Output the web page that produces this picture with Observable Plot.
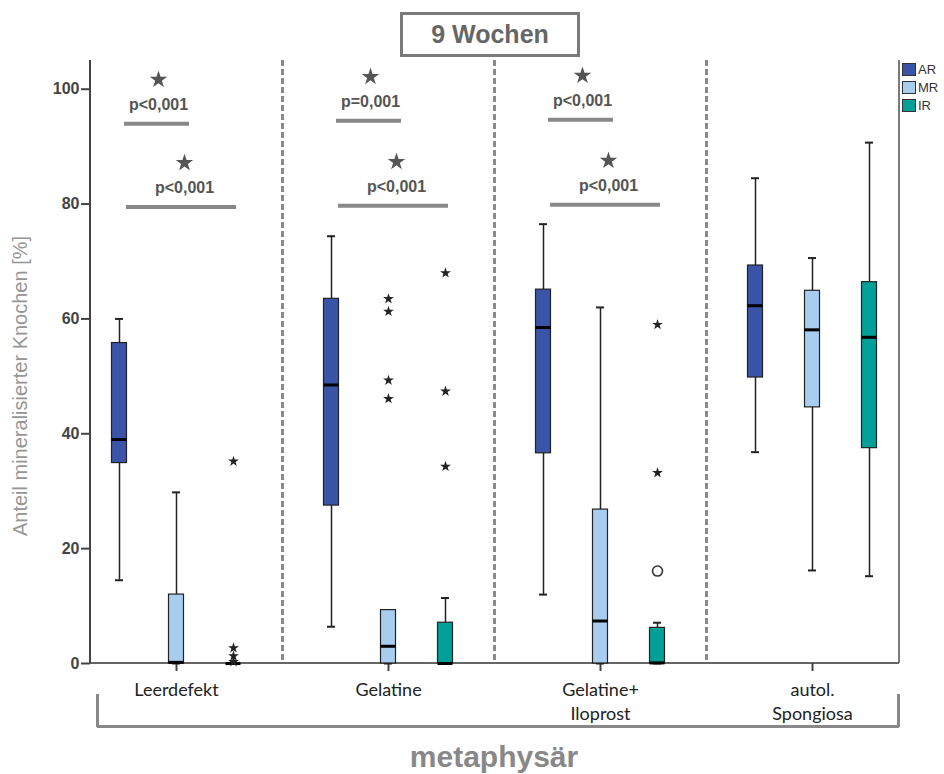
<!DOCTYPE html>
<html>
<head>
<meta charset="utf-8">
<script src="https://cdn.jsdelivr.net/npm/d3@7"></script>
<script src="https://cdn.jsdelivr.net/npm/@observablehq/plot@0.6"></script>
<style>
  body { margin: 0; background: #fff; }
  #wrap { position: relative; width: 944px; height: 774px; font-family: "Liberation Sans", Arial, sans-serif; overflow: hidden; }
  #chart { position: absolute; left: 0; top: 0; }
  #title { position: absolute; left: 400px; top: 12px; width: 180px; height: 45px; box-sizing: border-box;
           border: 3px solid #7a7a7a; display: flex; align-items: center; justify-content: center;
           font-weight: bold; font-size: 25px; color: #666; }
  #legend { position: absolute; left: 902px; top: 60px; }
  .sw { display: flex; align-items: center; height: 18px; font-size: 13px; color: #333; }
  .sw .box { width: 14px; height: 13px; border: 1px solid #333; box-sizing: border-box; margin-right: 2px; }
  #bracket { position: absolute; left: 96px; top: 694px; width: 804px; height: 34px; box-sizing: border-box;
             border: 3px solid #888; border-top: none; border-radius: 0 0 3px 3px; }
  #caption { position: absolute; left: 344px; width: 300px; top: 742px; text-align: center; line-height: 30px;
             font-size: 30px; font-weight: bold; color: #888; }
  #ylabel { position: absolute; left: -180px; top: 374px; width: 400px; text-align: center; line-height: 24px;
            font-size: 20px; color: #959595; transform: rotate(-90deg); transform-origin: 50% 50%; }
</style>
</head>
<body>
<div id="wrap">
  <div id="chart"></div>
  <div id="title"></div>
  <div id="legend"></div>
  <div id="bracket"></div>
  <div id="caption"></div>
  <div id="ylabel"></div>
</div>
<script>
// ---------- data ----------
const titleText = "9 Wochen";
const captionText = "metaphysär";
const yLabel = "Anteil mineralisierter Knochen [%]";
const groups = ["Leerdefekt", "Gelatine", "Gelatine+\nIloprost", "autol.\nSpongiosa"];
const series = ["AR", "MR", "IR"];
const seriesColors = ["#3a55a8", "#a9cdef", "#00a098"];
const yTicks = [0, 20, 40, 60, 80, 100];

// [lower whisker, Q1, median, Q3, upper whisker] per group
const statsAR = [
  [14.5, 34.9, 39.0, 55.8, 60.0],
  [6.4, 27.5, 48.5, 63.5, 74.4],
  [12.0, 36.6, 58.5, 65.1, 76.5],
  [36.8, 49.8, 62.3, 69.3, 84.5]
];
const statsMR = [
  [0, 0, 0.2, 12.0, 29.8],
  [0, 0, 3.0, 9.3, 9.3],
  [0, 0, 7.4, 26.8, 62.0],
  [16.2, 44.6, 58.1, 64.9, 70.6]
];
const statsIR = [
  [0, 0, 0, 0, 0],
  [0, 0, 0, 7.1, 11.4],
  [0, 0, 0.1, 6.2, 7.1],
  [15.2, 37.5, 56.8, 66.4, 90.7]
];

// outliers: [group index, series, value, kind]
const outliers = [
  [0, "IR", 35.2, "star"], [0, "IR", 2.7, "star"], [0, "IR", 1.3, "star"], [0, "IR", 0.3, "star"],
  [1, "MR", 63.5, "star"], [1, "MR", 61.3, "star"], [1, "MR", 49.3, "star"], [1, "MR", 46.1, "star"],
  [1, "IR", 68.0, "star"], [1, "IR", 47.4, "star"], [1, "IR", 34.3, "star"],
  [2, "IR", 59.0, "star"], [2, "IR", 33.2, "star"], [2, "IR", 16.1, "circle"]
];

// significance bars: [group index, pair, level, label]
const sigBars = [
  [0, "AR-MR", 94.0, "p<0,001"], [0, "AR-IR", 79.5, "p<0,001"],
  [1, "AR-MR", 94.5, "p=0,001"], [1, "AR-IR", 79.7, "p<0,001"],
  [2, "AR-MR", 94.7, "p<0,001"], [2, "AR-IR", 79.9, "p<0,001"]
];

// ---------- layout / style ----------
const W = 944, H = 774;
const X_RANGE = [70, 918];
const STEP = (X_RANGE[1] - X_RANGE[0]) / groups.length;
const SERIES_DX = {AR: -57, MR: 0, IR: 57};
const BOX_W = 15, CAP_W = 8;
const boxInset = (STEP - BOX_W) / 2;
const capInset = (STEP - CAP_W) / 2;
const PAIR_STYLE = {
  "AR-MR": {insetLeft: STEP / 2 - 52, insetRight: STEP / 2 - 13, dx: -18},
  "AR-IR": {insetLeft: STEP / 2 - 50, insetRight: STEP / 2 - 60, dx: 8}
};

const statsBySeries = {AR: statsAR, MR: statsMR, IR: statsIR};

function rowsFor(s) {
  return groups.map((g, i) => {
    const [lo, q1, med, q3, hi] = statsBySeries[s][i];
    return {group: g, series: s, lo, q1, med, q3, hi};
  });
}

function boxMarks(s, color) {
  const rows = rowsFor(s);
  const dx = SERIES_DX[s];
  const whisk = rows.filter(d => d.hi > d.lo);
  return [
    Plot.ruleX(whisk, {x: "group", y1: "lo", y2: "hi", dx, stroke: "#222", strokeWidth: 1.5}),
    Plot.tickY(whisk, {x: "group", y: "hi", dx, insetLeft: capInset, insetRight: capInset, stroke: "#222", strokeWidth: 2}),
    Plot.tickY(whisk, {x: "group", y: "lo", dx, insetLeft: capInset, insetRight: capInset, stroke: "#222", strokeWidth: 2}),
    Plot.barY(rows.filter(d => d.q3 > d.q1), {x: "group", y1: "q1", y2: "q3", dx, insetLeft: boxInset, insetRight: boxInset,
      fill: color, stroke: "#222", strokeWidth: 1.2}),
    Plot.tickY(rows, {x: "group", y: "med", dx, insetLeft: boxInset, insetRight: boxInset, stroke: "#000", strokeWidth: 3})
  ];
}

const outRows = outliers.map(([gi, s, v, kind]) => ({group: groups[gi], series: s, value: v, kind}));
const sigRows = sigBars.map(([gi, pair, level, label]) => ({group: groups[gi], pair, level, label}));

function frameLines(index, scales, values, dims) {
  const {width, height, marginLeft, marginRight, marginTop, marginBottom} = dims;
  const L = marginLeft, R = width - marginRight, T = marginTop, B = height - marginBottom;
  const g = d3.create("svg:g");
  g.append("line").attr("x1", R).attr("x2", R).attr("y1", T).attr("y2", B).attr("stroke", "#7a7a7a").attr("stroke-width", 2);
  g.append("line").attr("x1", L).attr("x2", R).attr("y1", B).attr("y2", B).attr("stroke", "#666").attr("stroke-width", 2);
  g.append("line").attr("x1", L).attr("x2", L).attr("y1", T).attr("y2", B).attr("stroke", "#444").attr("stroke-width", 2);
  return g.node();
}

const sigMarks = [];
for (const pair of Object.keys(PAIR_STYLE)) {
  const st = PAIR_STYLE[pair];
  const rows = sigRows.filter(d => d.pair === pair);
  sigMarks.push(
    Plot.tickY(rows, {x: "group", y: "level", insetLeft: st.insetLeft, insetRight: st.insetRight, stroke: "#888", strokeWidth: 4}),
    Plot.text(rows, {x: "group", y: "level", text: "label", dx: st.dx, dy: -19, fontSize: 16, fontWeight: "bold", fill: "#555"}),
    Plot.dot(rows, {x: "group", y: "level", dx: st.dx, dy: -44, symbol: "star", r: 5.5, fill: "#555", stroke: "none"})
  );
}

const outMarks = series.flatMap(s => {
  const rows = outRows.filter(d => d.series === s);
  return [
    Plot.dot(rows.filter(d => d.kind === "star"), {x: "group", y: "value", dx: SERIES_DX[s], symbol: "star", r: 3.4, fill: "#222", stroke: "none"}),
    Plot.dot(rows.filter(d => d.kind === "circle"), {x: "group", y: "value", dx: SERIES_DX[s], symbol: "circle", r: 5, fill: "#fff", stroke: "#333", strokeWidth: 1.6})
  ];
});

const chart = Plot.plot({
  width: W, height: H,
  marginLeft: 90, marginRight: 45, marginTop: 60, marginBottom: 111,
  style: {fontFamily: "'Liberation Sans', Arial, sans-serif", background: "transparent"},
  x: {type: "band", domain: groups, range: X_RANGE, paddingInner: 0, paddingOuter: 0},
  y: {domain: [0, 105]},
  marks: [
    Plot.ruleX(groups.slice(1), {x: d => d, dx: -STEP / 2, stroke: "#8a8a8a", strokeWidth: 3, strokeDasharray: "6,3"}),
    frameLines,
    Plot.axisY(yTicks, {tickSize: 9, tickPadding: 2, fontSize: 16, fontWeight: "bold", fill: "#444", stroke: "#444", strokeWidth: 2, label: null}),
    Plot.axisX({tickSize: 8, tickPadding: 7, fontSize: 18, fontFamily: "Lato, 'Open Sans', sans-serif", lineHeight: 1.36,
      fill: "#222", stroke: "#444", strokeWidth: 2, label: null}),
    ...series.flatMap((s, i) => boxMarks(s, seriesColors[i])),
    ...outMarks,
    ...sigMarks
  ]
});
document.getElementById("chart").append(chart);

document.getElementById("title").textContent = titleText;
document.getElementById("caption").textContent = captionText;
document.getElementById("ylabel").textContent = yLabel;
const legend = document.getElementById("legend");
series.forEach((s, i) => {
  const row = document.createElement("div");
  row.className = "sw";
  const box = document.createElement("span");
  box.className = "box";
  box.style.background = seriesColors[i];
  row.append(box, document.createTextNode(s));
  legend.append(row);
});
</script>
</body>
</html>
